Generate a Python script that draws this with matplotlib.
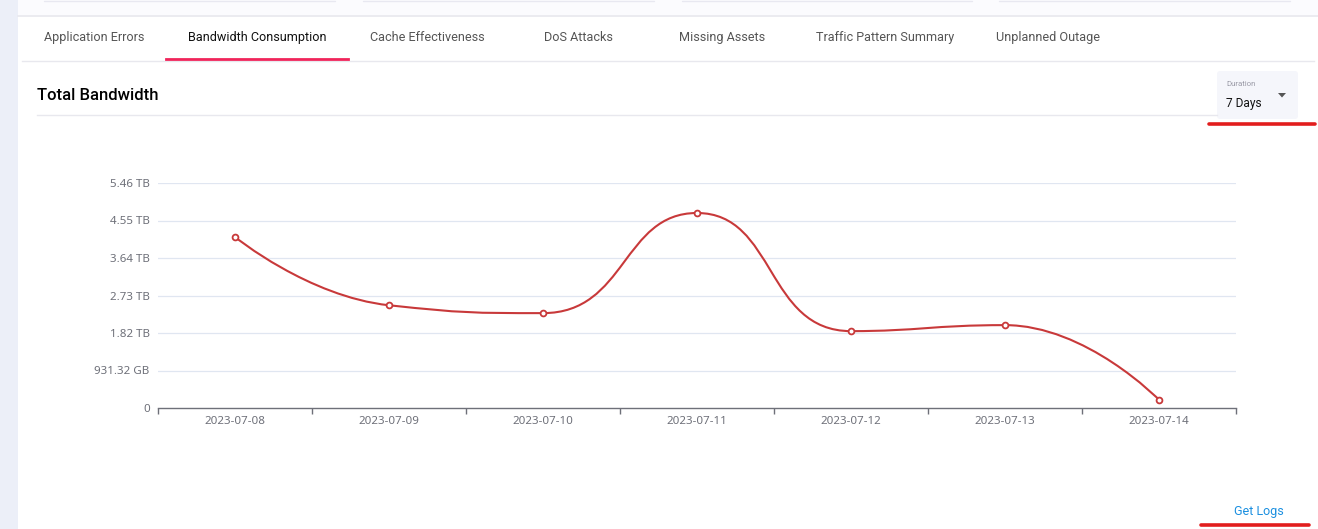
import numpy as np
import matplotlib
matplotlib.use("Agg")
import matplotlib.pyplot as plt
from matplotlib.path import Path
from matplotlib.patches import PathPatch, FancyBboxPatch, Polygon
from matplotlib.ticker import FixedLocator, FuncFormatter

# data (bytes per day)
dates = ["2023-07-08", "2023-07-09", "2023-07-10", "2023-07-11",
         "2023-07-12", "2023-07-13", "2023-07-14"]
bandwidth = [4.56e12, 2.74e12, 2.53e12, 5.20e12, 2.05e12, 2.21e12, 0.22e12]
y_ticks = [0, 1e12, 2e12, 3e12, 4e12, 5e12, 6e12]

tabs = ["Application Errors", "Bandwidth Consumption", "Cache Effectiveness",
        "DoS Attacks", "Missing Assets", "Traffic Pattern Summary", "Unplanned Outage"]
tab_x = [94, 257, 427, 578, 722, 885, 1048]
active_tab = 1

W, H = 1318, 529
LINE = "#c8393a"
AXIS = "#6e7079"
GRID = "#e0e6f1"


def fmt_bytes(v, pos=None):
    if v == 0:
        return "0"
    units = ["B", "KB", "MB", "GB", "TB", "PB"]
    i = 0
    while v >= 1024 and i < len(units) - 1:
        v /= 1024.0
        i += 1
    return f"{v:.2f} {units[i]}"


def echarts_smooth(px, py, smooth=0.5):
    # port of the echarts line smoothing, works in display pixels
    n = len(px)
    verts = [(px[0], py[0])]
    codes = [Path.MOVETO]
    cp0x, cp0y = px[0], py[0]
    for i in range(1, n):
        x, y = px[i], py[i]
        prx, pry = px[i - 1], py[i - 1]
        if i < n - 1:
            nx, ny = px[i + 1], py[i + 1]
            vx, vy = nx - prx, ny - pry
            d0 = np.hypot(x - prx, y - pry)
            d1 = np.hypot(nx - x, ny - y)
            r = d1 / (d0 + d1)
            ncx = x + vx * smooth * r
            ncy = y + vy * smooth * r
            ncx = max(min(ncx, max(nx, x)), min(nx, x))
            ncy = max(min(ncy, max(ny, y)), min(ny, y))
            vx, vy = ncx - x, ncy - y
            cp1x = x - vx * d0 / d1
            cp1y = y - vy * d0 / d1
            cp1x = max(min(cp1x, max(prx, x)), min(prx, x))
            cp1y = max(min(cp1y, max(pry, y)), min(pry, y))
            vx, vy = x - cp1x, y - cp1y
            ncx = x + vx * d1 / d0
            ncy = y + vy * d1 / d0
        else:
            cp1x, cp1y = x, y
            ncx, ncy = x, y
        verts += [(cp0x, cp0y), (cp1x, cp1y), (x, y)]
        codes += [Path.CURVE4] * 3
        cp0x, cp0y = ncx, ncy
    return np.array(verts), codes


fig = plt.figure(figsize=(W / 100, H / 100), dpi=100)
fig.patch.set_facecolor("white")

# page chrome drawn in pixel coordinates
bg = fig.add_axes([0, 0, 1, 1])
bg.set_xlim(0, W)
bg.set_ylim(H, 0)
bg.axis("off")

bg.add_patch(plt.Rectangle((0, 0), 18, H, color="#eceff8", lw=0))
bg.add_patch(plt.Rectangle((18, 0), W - 18, 15, color="#fbfbfe", lw=0))
for x0, x1 in [(44, 335), (363, 654), (682, 972), (999, 1290)]:
    bg.plot([x0, x1], [0.5, 0.5], color="#e8e8f1", lw=1.0, solid_capstyle="round")
bg.plot([18, W], [15.5, 15.5], color="#e8e8ee", lw=1.2)

for i, (name, x) in enumerate(zip(tabs, tab_x)):
    bg.text(x, 37.5, name, ha="center", va="center", fontsize=9.1, family="Roboto",
            color="#111111" if i == active_tab else "#555555")
bg.plot([22, W - 4], [60.5, 60.5], color="#e8e8ee", lw=1.0)
bg.plot([166, 348], [58.5, 58.5], color="#f0245a", lw=2.0)

bg.text(37, 95, "Total Bandwidth", ha="left", va="center", fontsize=12,
        family="Roboto", fontweight="medium", color="#000000")
bg.plot([37, 1217], [114.5, 114.5], color="#e8e8ee", lw=1.0)

# duration dropdown
bg.add_patch(FancyBboxPatch((1217, 71), 81, 48, boxstyle="round,pad=0,rounding_size=3",
                            facecolor="#f5f6fb", edgecolor="none"))
bg.text(1226, 84, "Duration", ha="left", va="center", fontsize=5.6,
        family="Roboto", color="#9a9aa6")
bg.text(1226, 103, "7 Days", ha="left", va="center", fontsize=8.6,
        family="Roboto", color="#111111")
bg.add_patch(Polygon([(1278, 93), (1286, 93), (1282, 97.5)], closed=True,
                     color="#555555", lw=0))
bg.plot([1209, 1315], [124, 124], color="#e21d1d", lw=2.6, solid_capstyle="round")

bg.text(1259, 512, "Get Logs", ha="center", va="center", fontsize=9,
        family="Roboto", color="#1a8fe0")
bg.plot([1201, 1309], [524.5, 524.5], color="#e21d1d", lw=2.6, solid_capstyle="round")

# chart
left, right, top, bottom = 158, 1236, 183, 408
ax = fig.add_axes([left / W, 1 - bottom / H, (right - left) / W, (bottom - top) / H])
ax.set_facecolor("none")
xs = np.arange(len(dates))
ax.set_xlim(-0.5, len(dates) - 0.5)
ax.set_ylim(0, y_ticks[-1])

ax.yaxis.set_major_locator(FixedLocator(y_ticks))
ax.yaxis.set_major_formatter(FuncFormatter(fmt_bytes))
ax.set_xticks(xs)
ax.set_xticklabels(dates)
ax.set_xticks(np.arange(len(dates) + 1) - 0.5, minor=True)

for t in y_ticks[1:]:
    ax.axhline(t, color=GRID, lw=0.9, zorder=0)

for s in ["top", "right", "left"]:
    ax.spines[s].set_visible(False)
ax.spines["bottom"].set_color(AXIS)
ax.spines["bottom"].set_linewidth(1.0)

ax.tick_params(axis="y", length=0, pad=6, labelsize=8.3, labelcolor=AXIS)
ax.tick_params(axis="x", which="major", length=0, pad=6, labelsize=8.3, labelcolor=AXIS)
ax.tick_params(axis="x", which="minor", length=4, width=1.0, color=AXIS)
for lab in ax.get_xticklabels() + ax.get_yticklabels():
    lab.set_family("Noto Sans")

# smooth line built in pixel space, then mapped back to data
pts = ax.transData.transform(np.column_stack([xs, bandwidth]))
verts, codes = echarts_smooth(pts[:, 0], pts[:, 1], 0.5)
verts = ax.transData.inverted().transform(verts)
ax.add_patch(PathPatch(Path(verts, codes), facecolor="none", edgecolor=LINE,
                       lw=1.5, zorder=3, clip_on=False))
ax.plot(xs, bandwidth, linestyle="none", marker="o", markersize=4.2,
        markerfacecolor="white", markeredgecolor=LINE, markeredgewidth=1.3,
        zorder=4, clip_on=False)

fig.savefig("out.png", dpi=100)
